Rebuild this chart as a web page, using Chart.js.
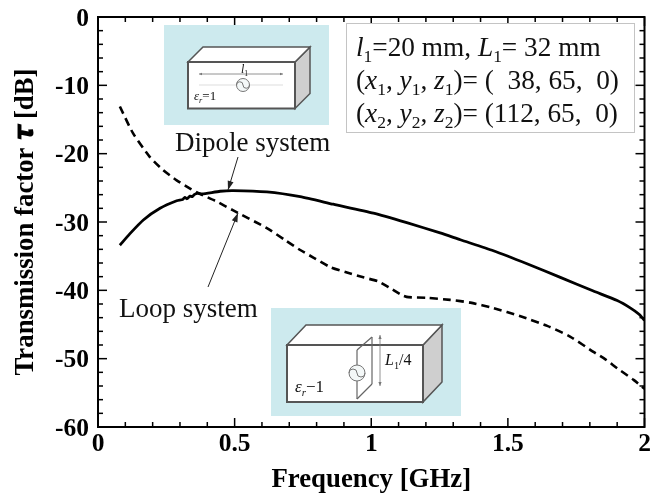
<!DOCTYPE html>
<html>
<head>
<meta charset="utf-8">
<style>
  html, body { margin: 0; background: #fff; }
  canvas { display: block; }
</style>
<script src="https://cdn.jsdelivr.net/npm/chart.js@4/dist/chart.umd.min.js"></script>
</head>
<body>
<canvas id="chart" width="664" height="499"></canvas>
<script>
// values
const dipoleFreq = [0.08, 0.117, 0.166, 0.227, 0.288, 0.31, 0.318, 0.325, 0.337, 0.345, 0.352, 0.364, 0.38, 0.447, 0.495, 0.618, 0.74, 0.861, 1.008, 1.13, 1.252, 1.326, 1.447, 1.57, 1.692, 1.813, 1.9, 1.949, 1.98, 2];
const dipoleTau = [-33.4, -31.7, -29.7, -28, -26.9, -26.7, -26.4, -26.6, -26.2, -26.3, -26, -25.8, -25.9, -25.5, -25.4, -25.6, -26.3, -27.4, -28.7, -30.1, -31.6, -32.6, -34.2, -36.1, -38.1, -40.1, -41.5, -42.6, -43.5, -44.4];
const loopFreq = [0.08, 0.128, 0.19, 0.238, 0.288, 0.337, 0.374, 0.429, 0.495, 0.618, 0.685, 0.74, 0.788, 0.85, 0.911, 0.971, 1.026, 1.07, 1.112, 1.136, 1.204, 1.289, 1.363, 1.447, 1.546, 1.644, 1.729, 1.813, 1.857, 1.9, 1.96, 2];
const loopTau = [-13.1, -17, -20.5, -22.4, -23.9, -25.1, -25.9, -26.9, -28.3, -30.9, -32.65, -34.1, -35.2, -36.6, -37.4, -38.1, -38.7, -39.7, -40.7, -41, -41.1, -41.4, -41.8, -42.6, -43.8, -45.2, -46.8, -49, -50.1, -51.4, -53.1, -54.4];
const xLabels = [0, 0.5, 1, 1.5, 2];
const yLabels = [0, -10, -20, -30, -40, -50, -60];

const toPoints = (xs, ys) => xs.map((x, i) => ({ x, y: ys[i] }));
const near = (v, list) => list.find((l) => Math.abs(l - v) < 1e-6);

const SERIF = '"Liberation Serif", "Times New Roman", serif';

// text with italic / subscript parts
function runs(ctx, x, y, size, parts) {
    ctx.textAlign = 'left';
    ctx.textBaseline = 'alphabetic';
    ctx.fillStyle = '#111';
    parts.forEach(([text, style]) => {
        const sub = style && style.includes('s');
        const ital = style && style.includes('i');
        const fs = sub ? size * 0.64 : size;
        ctx.font = `${ital ? 'italic ' : ''}${fs}px ${SERIF}`;
        ctx.fillText(text, x, sub ? y + size * 0.22 : y);
        x += ctx.measureText(text).width;
    });
}

function poly(ctx, pts, fill, stroke, lw) {
    ctx.beginPath();
    pts.forEach(([x, y], i) => (i ? ctx.lineTo(x, y) : ctx.moveTo(x, y)));
    ctx.closePath();
    if (fill) { ctx.fillStyle = fill; ctx.fill(); }
    if (stroke) { ctx.strokeStyle = stroke; ctx.lineWidth = lw; ctx.lineJoin = 'miter'; ctx.stroke(); }
}

function line(ctx, x1, y1, x2, y2, color, lw) {
    ctx.beginPath();
    ctx.moveTo(x1, y1);
    ctx.lineTo(x2, y2);
    ctx.strokeStyle = color;
    ctx.lineWidth = lw;
    ctx.stroke();
}

function arrow(ctx, x1, y1, x2, y2, color, lw, len, wid) {
    line(ctx, x1, y1, x2, y2, color, lw);
    const a = Math.atan2(y2 - y1, x2 - x1);
    const bx = x2 - Math.cos(a) * len, by = y2 - Math.sin(a) * len;
    const nx = -Math.sin(a) * wid, ny = Math.cos(a) * wid;
    poly(ctx, [[x2, y2], [bx + nx, by + ny], [bx - nx, by - ny]], color);
}

function source(ctx, cx, cy, r) {
    ctx.beginPath();
    ctx.arc(cx, cy, r, 0, Math.PI * 2);
    ctx.fillStyle = '#f4f8f8';
    ctx.fill();
    ctx.strokeStyle = '#777';
    ctx.lineWidth = 1;
    ctx.stroke();
    ctx.beginPath();
    ctx.arc(cx - r / 2, cy, r / 2, Math.PI, 0, false);
    ctx.arc(cx + r / 2, cy, r / 2, Math.PI, 0, true);
    ctx.stroke();
}

function box3d(ctx, l, t, r, b, dx, dy) {
    poly(ctx, [[r, t], [r + dx, t - dy], [r + dx, b - dy], [r, b]], '#cfcfcf', '#555', 1.5);
    poly(ctx, [[l, t], [l + dx, t - dy], [r + dx, t - dy], [r, t]], '#fff', '#555', 1.5);
    poly(ctx, [[l, t], [r, t], [r, b], [l, b]], '#fff', '#555', 2);
}

// inward ticks on all four sides and the frame
const frame = {
    id: 'frame',
    afterDatasetsDraw(chart) {
        const { ctx, chartArea: a, scales: { x, y } } = chart;
        ctx.save();
        x.ticks.forEach((t) => {
            const px = x.getPixelForValue(t.value);
            const len = near(t.value, xLabels) !== undefined ? 9 : 5;
            line(ctx, px, a.bottom, px, a.bottom - len, '#000', 1.5);
            line(ctx, px, a.top, px, a.top + len, '#000', 1.5);
        });
        y.ticks.forEach((t) => {
            const py = y.getPixelForValue(t.value);
            const len = near(t.value, yLabels) !== undefined ? 9 : 5;
            line(ctx, a.left, py, a.left + len, py, '#000', 1.5);
            line(ctx, a.right, py, a.right - len, py, '#000', 1.5);
        });
        ctx.strokeStyle = '#000';
        ctx.lineWidth = 2;
        ctx.strokeRect(a.left, a.top, a.right - a.left, a.bottom - a.top);
        ctx.restore();
    },
};

// dipole / loop sketches, parameter box and callouts
const notes = {
    id: 'notes',
    afterDraw(chart) {
        const { ctx } = chart;
        ctx.save();

        // dipole inset
        ctx.fillStyle = '#cdeaee';
        ctx.fillRect(164, 25, 165, 100);
        box3d(ctx, 188, 62, 295, 108.5, 15, 15);
        arrow(ctx, 243, 74, 199, 74, '#777', 0.8, 3, 1.2);
        arrow(ctx, 243, 74, 283, 74, '#777', 0.8, 3, 1.2);
        line(ctx, 199, 85, 283, 85, '#e8e8e8', 1.5);
        source(ctx, 243, 85, 6.5);
        runs(ctx, 241, 73, 12, [['l', 'i'], ['1', 's']]);
        runs(ctx, 194, 100, 13, [['ε', 'i'], ['r', 'is'], ['=1']]);

        // loop inset
        ctx.fillStyle = '#cdeaee';
        ctx.fillRect(271, 308, 190, 108);
        box3d(ctx, 287, 345, 423, 402, 19, 20);
        line(ctx, 357, 350, 372, 337, '#666', 1.2);
        line(ctx, 372, 337, 372, 384, '#666', 1.2);
        line(ctx, 372, 384, 357, 399, '#666', 1.2);
        line(ctx, 357, 350, 357, 399, '#666', 1.2);
        source(ctx, 357, 373, 8);
        arrow(ctx, 380, 360, 380, 335, '#777', 0.8, 4, 1.6);
        arrow(ctx, 380, 360, 380, 386, '#777', 0.8, 4, 1.6);
        runs(ctx, 385, 365, 16, [['L', 'i'], ['1', 's'], ['/4']]);
        runs(ctx, 295, 392, 17, [['ε', 'i'], ['r', 'is'], ['−1']]);

        // parameter box
        ctx.fillStyle = '#fff';
        ctx.fillRect(346.5, 23.5, 288, 109);
        ctx.strokeStyle = '#c4c4c4';
        ctx.lineWidth = 1;
        ctx.strokeRect(346.5, 23.5, 288, 109);
        const fs = 27.3;
        runs(ctx, 356, 56, fs, [['l', 'i'], ['1', 's'], ['=20 mm, '], ['L', 'i'], ['1', 's'], ['= 32 mm']]);
        runs(ctx, 356, 89, fs, [['('], ['x', 'i'], ['1', 's'], [', '], ['y', 'i'], ['1', 's'], [', '], ['z', 'i'], ['1', 's'], [')= (\u00a0\u00a038, 65,\u00a0\u00a00)']]);
        runs(ctx, 356, 122, fs, [['('], ['x', 'i'], ['2', 's'], [', '], ['y', 'i'], ['2', 's'], [', '], ['z', 'i'], ['2', 's'], [')= (112, 65,\u00a0\u00a00)']]);

        // callouts
        runs(ctx, 175, 151, 27, [['Dipole system']]);
        runs(ctx, 119, 317, 27, [['Loop system']]);
        arrow(ctx, 238, 157, 228, 190, '#222', 1, 9, 3);
        arrow(ctx, 208, 287, 238, 213, '#222', 1, 9, 3);

        ctx.restore();
    },
};

new Chart(document.getElementById('chart'), {
    type: 'line',
    data: {
        datasets: [
            {
                label: 'Dipole system',
                data: toPoints(dipoleFreq, dipoleTau),
                borderColor: '#000',
                borderWidth: 2.8,
                pointRadius: 0,
                tension: 0.2,
            },
            {
                label: 'Loop system',
                data: toPoints(loopFreq, loopTau),
                borderColor: '#000',
                borderWidth: 2.6,
                borderDash: [8, 5],
                pointRadius: 0,
                tension: 0.2,
            },
        ],
    },
    options: {
        responsive: false,
        animation: false,
        layout: { padding: { top: 17, right: 19.5 } },
        plugins: { legend: { display: false }, tooltip: { enabled: false } },
        scales: {
            x: {
                type: 'linear',
                min: 0,
                max: 2,
                afterFit: (s) => { s.height = 72; s.paddingLeft = 0; s.paddingRight = 0; },
                grid: { display: false, drawTicks: false },
                border: { display: false },
                ticks: {
                    stepSize: 0.1,
                    autoSkip: false,
                    maxRotation: 0,
                    padding: 2,
                    color: '#000',
                    font: { family: SERIF, size: 25.5, weight: 'bold' },
                    callback: (v) => { const l = near(v, xLabels); return l === undefined ? '' : String(l); },
                },
                title: {
                    display: true,
                    text: 'Frequency [GHz]',
                    color: '#000',
                    font: { family: SERIF, size: 26.8, weight: 'bold' },
                    padding: { top: 0, bottom: 3 },
                },
            },
            y: {
                min: -60,
                max: 0,
                afterFit: (s) => { s.width = 98; s.paddingTop = 0; s.paddingBottom = 0; },
                grid: { display: false, drawTicks: false },
                border: { display: false },
                ticks: {
                    stepSize: 2,
                    autoSkip: false,
                    padding: 9,
                    color: '#000',
                    // small line height + empty first line nudges the labels 2px down
                    font: { family: SERIF, size: 25.5, weight: 'bold', lineHeight: 0.157 },
                    callback: (v) => { const l = near(v, yLabels); return l === undefined ? '' : ['', String(l)]; },
                },
                title: {
                    display: true,
                    text: 'Transmission factor 𝝉 [dB]',
                    color: '#000',
                    font: { family: SERIF, size: 26.8, weight: 'bold' },
                    padding: { top: 10, bottom: 0 },
                },
            },
        },
    },
    plugins: [frame, notes],
});
</script>
</body>
</html>
